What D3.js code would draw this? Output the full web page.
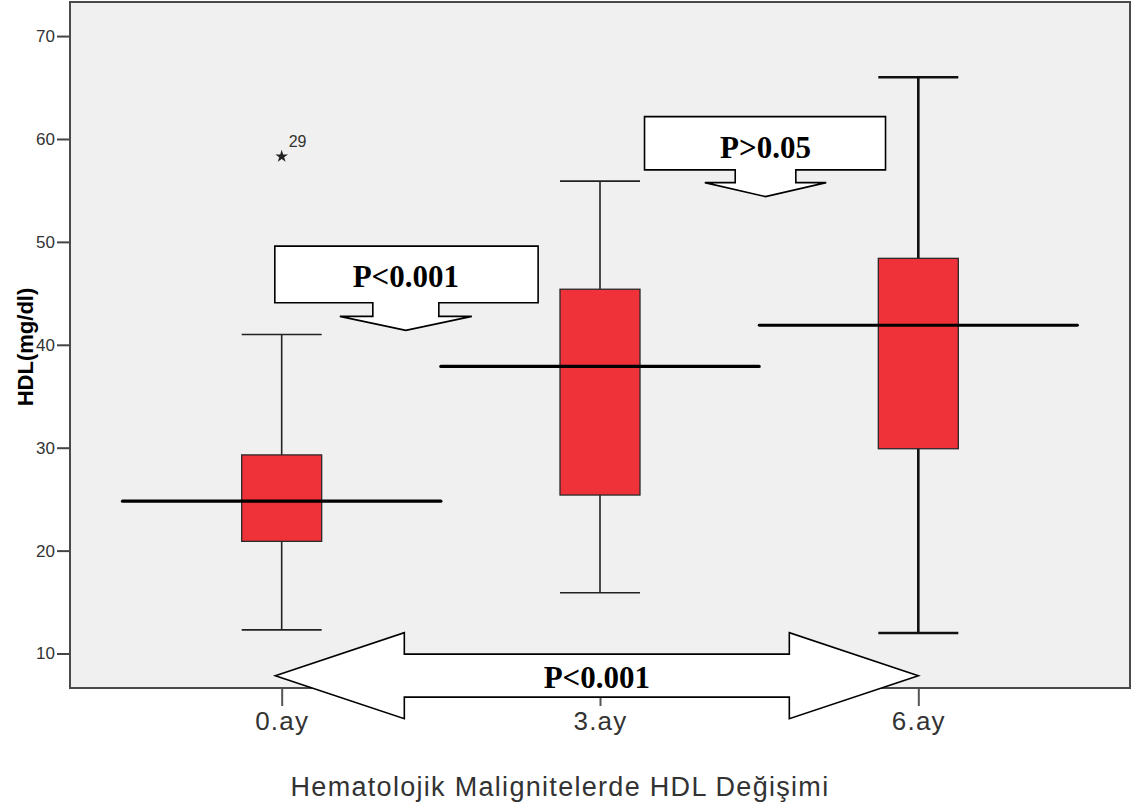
<!DOCTYPE html>
<html><head><meta charset="utf-8">
<script src="https://cdn.jsdelivr.net/npm/d3@7"></script>
<style>html,body{margin:0;padding:0;background:#fff;}svg{display:block;}</style>
</head><body>
<svg id="chart" width="1134" height="809"></svg>
<script>
// ---- data ----
const categories = ["0.ay", "3.ay", "6.ay"];
const whiskerLow = [12.3, 15.9, 12.0];
const q1 = [20.9, 25.4, 29.9];
const median = [24.8, 37.9, 41.9];
const q3 = [29.3, 45.4, 48.4];
const whiskerHigh = [41.0, 55.9, 66.0];
const outlierCats = ["0.ay"];
const outlierValues = [58.3];
const outlierLabels = ["29"];
const yTicks = [10, 20, 30, 40, 50, 60, 70];
const xTitle = "Hematolojik Malignitelerde HDL Değişimi";
const yTitle = "HDL(mg/dl)";
// annotations: [label, position in category-index units, value]
const calloutLabels = ["P<0.001", "P>0.05"];
const calloutPos = [0.39, 1.52];
const calloutTipValues = [41.4, 54.4];
const spanLabel = "P<0.001";
const spanFrom = -0.02, spanTo = 2.0, spanValue = 7.85;

// ---- layout ----
const svg = d3.select("#chart");
const L = 70, R = 1130, T = 2, B = 688;
const x = d3.scalePoint().domain(categories).range([L, R]).padding(0.665);
const y = d3.scaleLinear().domain([6.65, 73.31]).range([B, T]);
const step = x.step();
const xu = u => x(categories[0]) + u * step;
const boxW = 80;

const rows = categories.map((c, i) => ({c, i, lo: whiskerLow[i], q1: q1[i], med: median[i], q3: q3[i], hi: whiskerHigh[i]}));

// plot background
svg.append("rect").attr("x", L).attr("y", T).attr("width", R - L).attr("height", B - T)
  .attr("fill", "#f0f0f0");

// y axis
const yAxis = d3.axisLeft(y).tickValues(yTicks).tickSize(13).tickPadding(2).tickFormat(d3.format("d"));
const gy = svg.append("g").attr("transform", `translate(${L},0)`).call(yAxis);
gy.select(".domain").remove();
gy.selectAll(".tick line").attr("stroke", "#444").attr("stroke-width", 2);
gy.selectAll(".tick text").attr("fill", "#333").style("font-family", "Liberation Sans, Arial, sans-serif").style("font-size", "17px");

// x axis
const xAxis = d3.axisBottom(x).tickSize(18).tickPadding(6);
const gx = svg.append("g").attr("transform", `translate(0,${B})`).call(xAxis);
gx.select(".domain").remove();
gx.selectAll(".tick line").attr("stroke", "#555").attr("stroke-width", 2);
gx.selectAll(".tick text").attr("fill", "#333").style("font-family", "Liberation Sans, Arial, sans-serif").style("font-size", "26px").style("letter-spacing", "1.2px");

// frame
svg.append("rect").attr("x", L).attr("y", T).attr("width", R - L).attr("height", B - T)
  .attr("fill", "none").attr("stroke", "#4a4a4a").attr("stroke-width", 2);

// whiskers
const wStroke = [1.6, 1.6, 2.6];
const wColor = ["#222", "#222", "#111"];
const g = svg.append("g");
rows.forEach(r => {
  const cx = x(r.c);
  g.append("line").attr("x1", cx).attr("x2", cx).attr("y1", y(r.hi)).attr("y2", y(r.q3))
    .attr("stroke", wColor[r.i]).attr("stroke-width", wStroke[r.i]);
  g.append("line").attr("x1", cx).attr("x2", cx).attr("y1", y(r.q1)).attr("y2", y(r.lo))
    .attr("stroke", wColor[r.i]).attr("stroke-width", wStroke[r.i]);
  g.append("line").attr("x1", cx - boxW / 2).attr("x2", cx + boxW / 2).attr("y1", y(r.hi)).attr("y2", y(r.hi))
    .attr("stroke", wColor[r.i]).attr("stroke-width", wStroke[r.i]);
  g.append("line").attr("x1", cx - boxW / 2).attr("x2", cx + boxW / 2).attr("y1", y(r.lo)).attr("y2", y(r.lo))
    .attr("stroke", wColor[r.i]).attr("stroke-width", wStroke[r.i]);
});
// boxes
g.selectAll("rect.box").data(rows).join("rect").attr("class", "box")
  .attr("x", d => x(d.c) - boxW / 2).attr("width", boxW)
  .attr("y", d => y(d.q3)).attr("height", d => y(d.q1) - y(d.q3))
  .attr("fill", "#ef313a").attr("stroke", "#2a2a2a").attr("stroke-width", 1.3);
// medians (wide lines)
const mStroke = [3.2, 3.2, 2.8];
g.selectAll("line.med").data(rows).join("line").attr("class", "med")
  .attr("x1", d => x(d.c) - step / 2).attr("x2", d => x(d.c) + step / 2)
  .attr("y1", d => y(d.med)).attr("y2", d => y(d.med))
  .attr("stroke", "#000").attr("stroke-width", (d, i) => mStroke[i]).attr("stroke-linecap", "round");

// outliers
outlierCats.forEach((c, i) => {
  const px = x(c), py = y(outlierValues[i]);
  svg.append("path").attr("d", d3.symbol(d3.symbolStar, 50)())
    .attr("transform", `translate(${px},${py})`).attr("fill", "#222");
  svg.append("text").attr("x", px + 7).attr("y", py - 9).text(outlierLabels[i])
    .attr("fill", "#333").style("font-family", "Liberation Sans, Arial, sans-serif").style("font-size", "16px");
});

// callouts (down arrows)
const shapes = [
  {left: -131, right: 132.3, top: -84.3, bottom: -27.7, shaft: 33, shaftBot: -14, wing: 66, textDy: -43.3},
  {left: -121, right: 120, top: -80, bottom: -26.7, shaft: 30.3, shaftBot: -14, wing: 60.7, textDy: -38.7}
];
calloutLabels.forEach((lab, i) => {
  const tx = xu(calloutPos[i]), ty = y(calloutTipValues[i]);
  const s = shapes[i];
  const p = d3.path();
  p.moveTo(tx + s.left, ty + s.top);
  p.lineTo(tx + s.right, ty + s.top);
  p.lineTo(tx + s.right, ty + s.bottom);
  p.lineTo(tx + s.shaft, ty + s.bottom);
  p.lineTo(tx + s.shaft, ty + s.shaftBot);
  p.lineTo(tx + s.wing, ty + s.shaftBot);
  p.lineTo(tx, ty);
  p.lineTo(tx - s.wing, ty + s.shaftBot);
  p.lineTo(tx - s.shaft, ty + s.shaftBot);
  p.lineTo(tx - s.shaft, ty + s.bottom);
  p.lineTo(tx + s.left, ty + s.bottom);
  p.closePath();
  svg.append("path").attr("d", p.toString()).attr("fill", "#fff").attr("stroke", "#000").attr("stroke-width", 1.6);
  svg.append("text").attr("x", tx).attr("y", ty + s.textDy).attr("text-anchor", "middle").text(lab)
    .style("font-family", "Liberation Serif, Times New Roman, serif").style("font-weight", "bold").style("font-size", "31px").attr("fill", "#000");
});

// double-headed arrow
{
  const x1 = xu(spanFrom), x2 = xu(spanTo), cy = y(spanValue);
  const head = 129, hh = 43, sh = 21.5;
  const p = d3.path();
  p.moveTo(x1, cy);
  p.lineTo(x1 + head, cy - hh);
  p.lineTo(x1 + head, cy - sh);
  p.lineTo(x2 - head, cy - sh);
  p.lineTo(x2 - head, cy - hh);
  p.lineTo(x2, cy);
  p.lineTo(x2 - head, cy + hh);
  p.lineTo(x2 - head, cy + sh);
  p.lineTo(x1 + head, cy + sh);
  p.lineTo(x1 + head, cy + hh);
  p.closePath();
  svg.append("path").attr("d", p.toString()).attr("fill", "#fff").attr("stroke", "#000").attr("stroke-width", 1.6);
  svg.append("text").attr("x", (x1 + x2) / 2).attr("y", cy + 12.5).attr("text-anchor", "middle").text(spanLabel)
    .style("font-family", "Liberation Serif, Times New Roman, serif").style("font-weight", "bold").style("font-size", "31px").attr("fill", "#000");
}

// axis titles
svg.append("text").attr("x", 560).attr("y", 796).attr("text-anchor", "middle").text(xTitle)
  .attr("fill", "#333").style("font-family", "Liberation Sans, Arial, sans-serif").style("font-size", "27px").style("letter-spacing", "1.3px");
svg.append("text").attr("transform", `translate(33,${347}) rotate(-90)`).attr("text-anchor", "middle").text(yTitle)
  .attr("fill", "#000").style("font-family", "Liberation Sans, Arial, sans-serif").style("font-weight", "bold").style("font-size", "22px");
</script>
</body></html>
